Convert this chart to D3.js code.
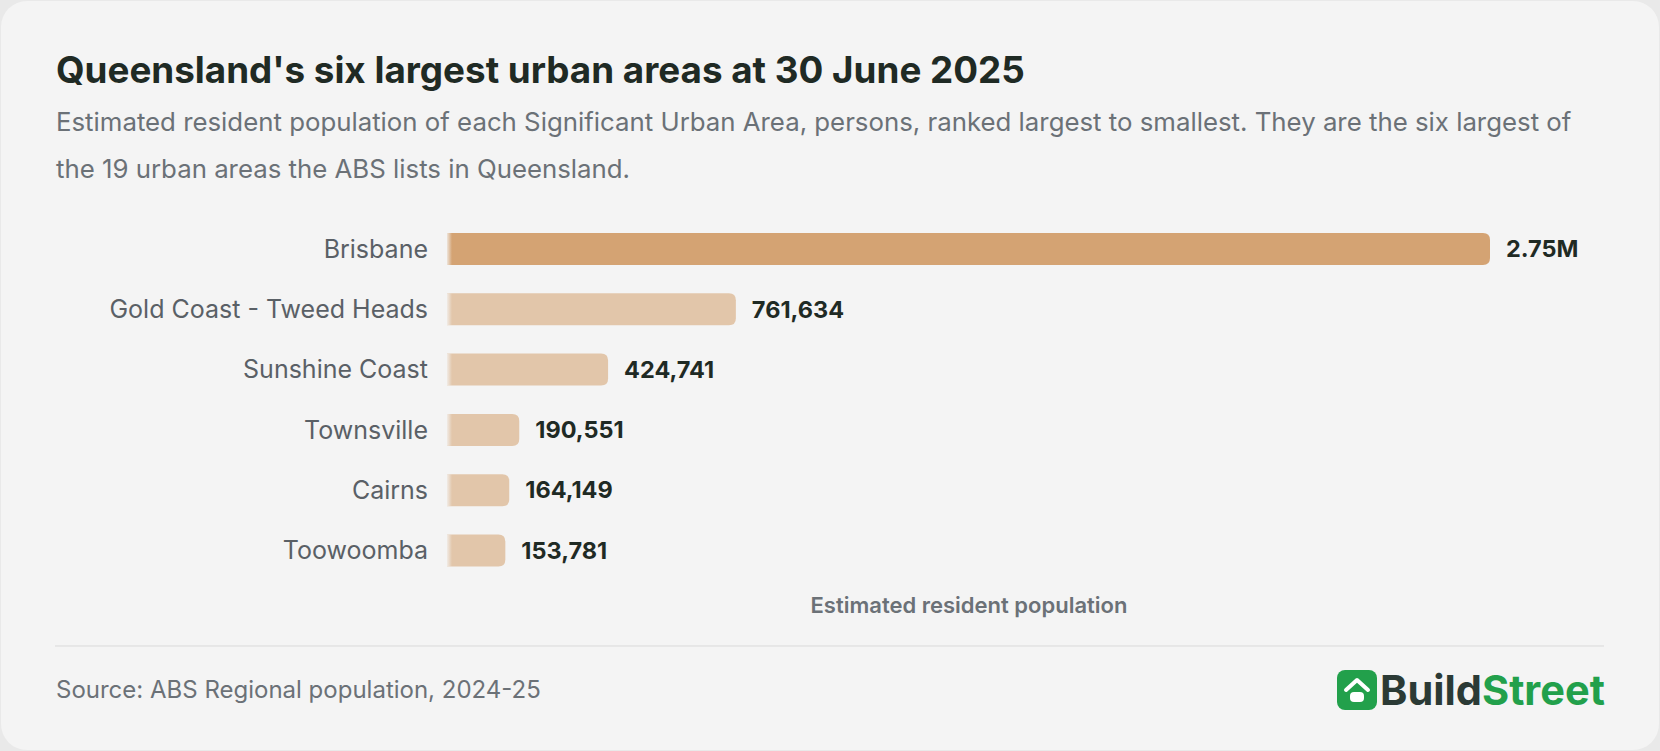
<!DOCTYPE html><html><head><meta charset="utf-8"><script src="https://cdn.jsdelivr.net/npm/d3@7"></script>
<style>body{margin:0;background:#ebebeb;font-family:Inter,sans-serif}</style></head><body><svg id="c" width="1660" height="751"></svg>
<script>
const categories=["Brisbane","Gold Coast - Tweed Heads","Sunshine Coast","Townsville","Cairns","Toowoomba"];
const values=[2750000,761634,424741,190551,164149,153781];
const valueLabels=["2.75M","761,634","424,741","190,551","164,149","153,781"];
const svg=d3.select("#c");
svg.append("rect").attr("x",0).attr("y",0).attr("width",1660).attr("height",751).attr("fill","#e9e9e9");
svg.append("rect").attr("x",1).attr("y",1).attr("width",1658).attr("height",749).attr("rx",26).attr("fill","#f4f4f4");
svg.append("text").attr("x",56).attr("y",83).attr("font-size",36.8).attr("font-weight",700).attr("fill","#1f2a24").text("Queensland's six largest urban areas at 30 June 2025");
const sub=["Estimated resident population of each Significant Urban Area, persons, ranked largest to smallest. They are the six largest of","the 19 urban areas the ABS lists in Queensland."];
sub.forEach((s,i)=>svg.append("text").attr("x",56).attr("y",131+i*46.5).attr("font-size",25.8).attr("fill","#6b7177").text(s));
const x=d3.scaleLinear().domain([0,2750000]).range([447,1490]);
const y=d3.scaleBand().domain(categories).range([233,566.5]).paddingInner(0.47).paddingOuter(0);
const defs=svg.append("defs");
const fade=defs.append("linearGradient").attr("id","fade").attr("x1",0).attr("x2",1);
fade.append("stop").attr("offset",0).attr("stop-color","#f4f4f4").attr("stop-opacity",0.8);
fade.append("stop").attr("offset",1).attr("stop-color","#f4f4f4").attr("stop-opacity",0);
const g=svg.append("g");
categories.forEach((c,i)=>{
 const col=i==0?"#d4a373":"#e2c6aa";
 const w=x(values[i])-x(0),yy=y(c),h=y.bandwidth();
 const r=7;
 g.append("path").attr("fill",col).attr("d",`M${x(0)},${yy}H${x(0)+w-r}Q${x(0)+w},${yy} ${x(0)+w},${yy+r}V${yy+h-r}Q${x(0)+w},${yy+h} ${x(0)+w-r},${yy+h}H${x(0)}Z`);
 g.append("rect").attr("x",x(0)).attr("y",yy).attr("width",5).attr("height",h).attr("fill","url(#fade)");
 g.append("text").attr("x",428).attr("y",yy+h/2).attr("dy","0.35em").attr("text-anchor","end").attr("font-size",25).attr("fill","#5a6066").text(c);
 g.append("text").attr("x",x(values[i])+16).attr("y",yy+h/2).attr("dy","0.35em").attr("font-size",23.5).attr("font-weight",700).attr("fill","#1f2a24").text(valueLabels[i]);
});
svg.append("text").attr("x",969).attr("y",613).attr("text-anchor","middle").attr("font-size",22).attr("font-weight",600).attr("fill","#6b7177").text("Estimated resident population");
svg.append("line").attr("x1",55).attr("x2",1604).attr("y1",646).attr("y2",646).attr("stroke","#d9d9d9");
svg.append("text").attr("x",56).attr("y",698).attr("font-size",24).attr("fill","#6b7177").text("Source: ABS Regional population, 2024-25");
const lg=svg.append("g").attr("transform","translate(1337,670)");
lg.append("rect").attr("width",40).attr("height",40).attr("rx",8).attr("fill","#22a04b");
lg.append("path").attr("d","M9,20 L20,10 L31,20").attr("fill","none").attr("stroke","#fff").attr("stroke-width",4).attr("stroke-linecap","round").attr("stroke-linejoin","round");
lg.append("rect").attr("x",13).attr("y",22).attr("width",14).attr("height",10).attr("rx",4).attr("fill","#fff");
const t=lg.append("text").attr("x",43).attr("y",35).attr("font-size",41.5).attr("font-weight",700);
t.append("tspan").attr("fill","#2b3a35").text("Build");
t.append("tspan").attr("fill","#22a04b").text("Street");
</script></body></html>
